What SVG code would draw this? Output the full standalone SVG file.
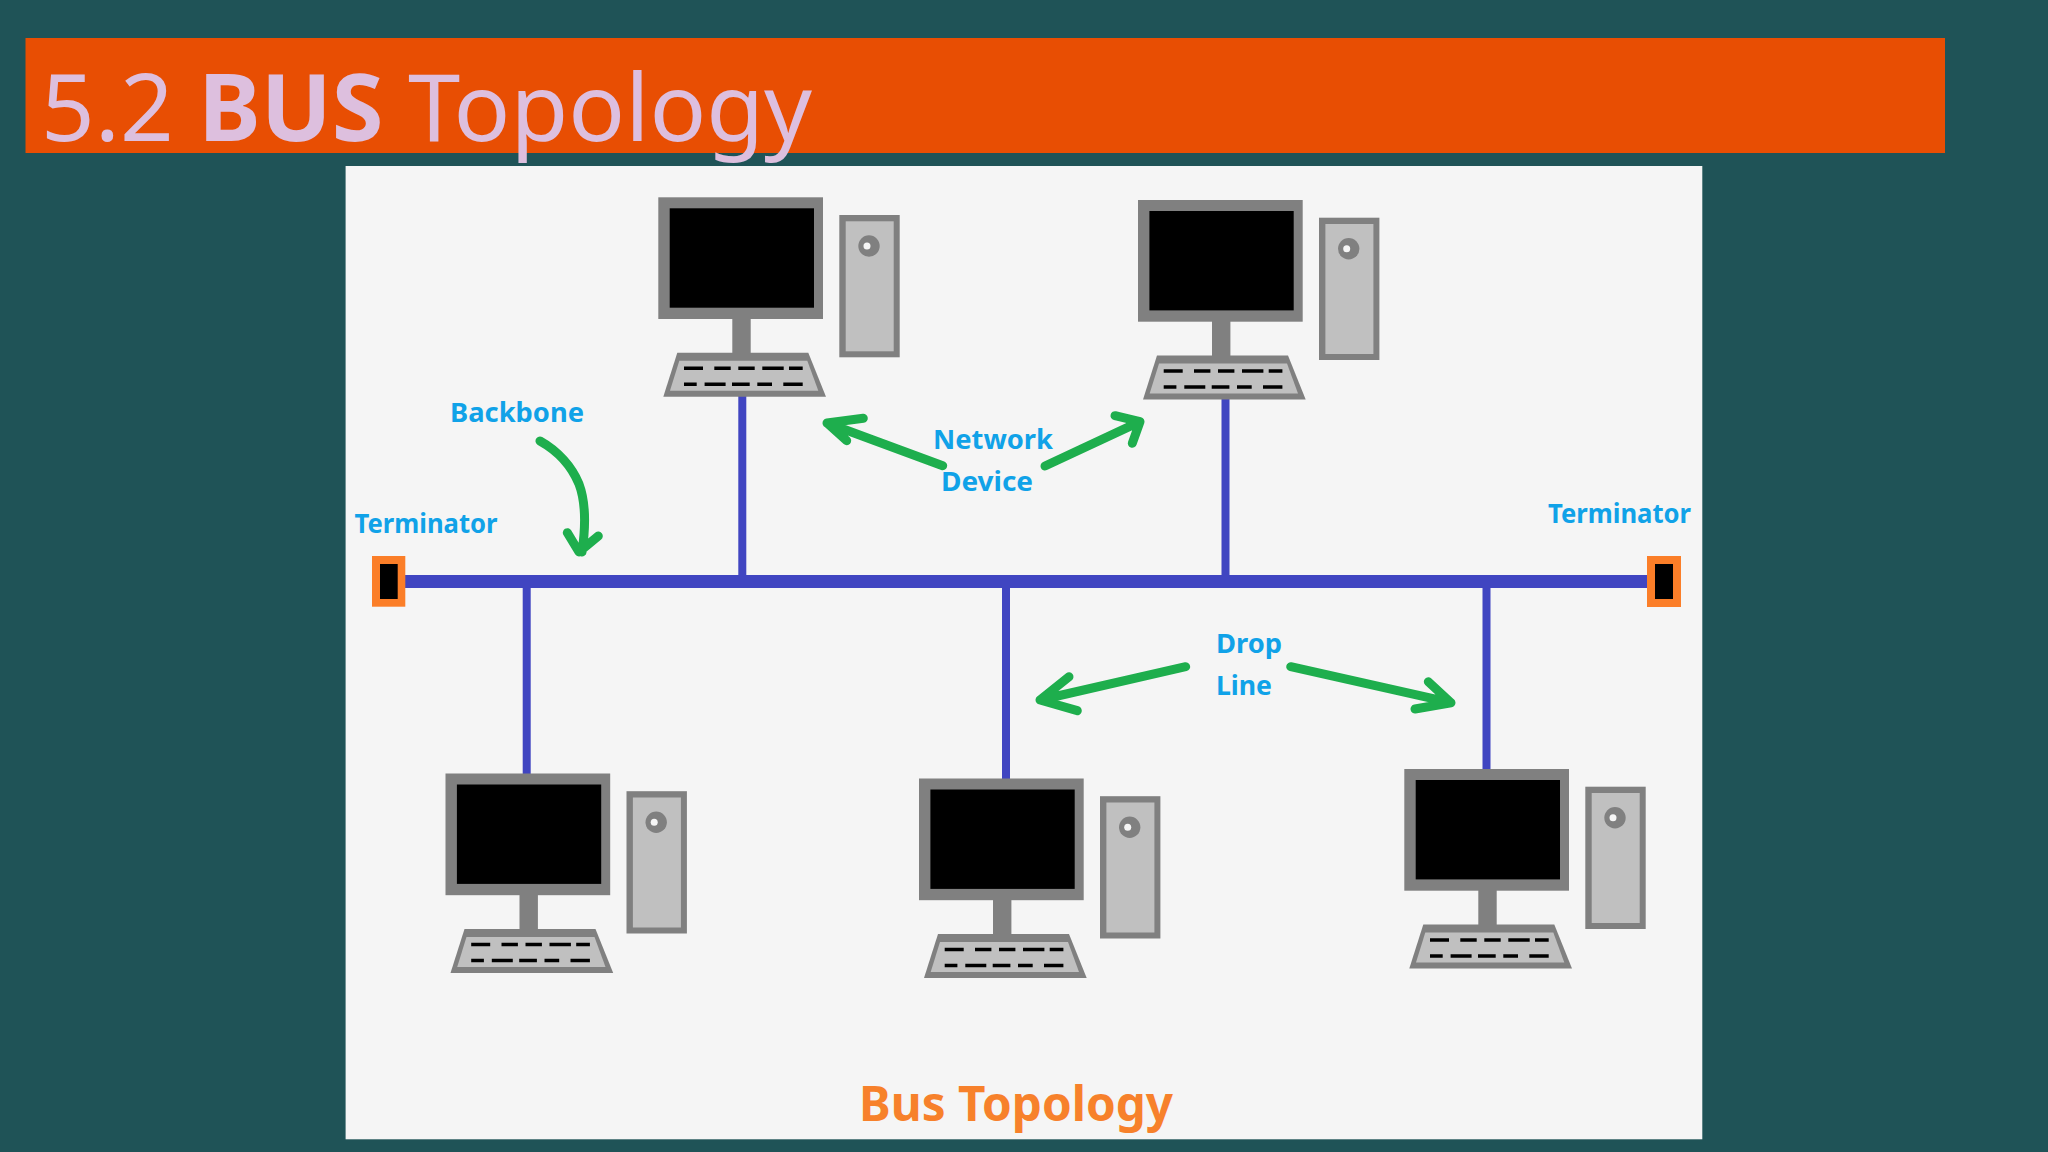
<svg xmlns="http://www.w3.org/2000/svg" xmlns:xlink="http://www.w3.org/1999/xlink" width="2048" height="1152" viewBox="0 0 2048 1152">
<style>
.title{font-family:"Noto Sans","Open Sans",sans-serif;font-size:93px;fill:#DDBFDE}
.lbl{font-family:"Noto Sans","Open Sans",sans-serif;font-size:27px;font-weight:700;fill:#10A2E8}
.cap{font-family:"Noto Sans","Open Sans",sans-serif;font-size:48px;font-weight:700;fill:#F7812B}
.bus{stroke:#4045C1;fill:none}
.ar{stroke:#1EAE4D;stroke-width:9;fill:none;stroke-linecap:round;stroke-linejoin:round}
.k{stroke:#000;stroke-width:3.500}
</style>
<defs>
<g id="pc">
<rect x="0" y="0" width="164.700" height="121.700" fill="#808080"/>
<rect x="11.400" y="11" width="144.300" height="99.400" fill="#000"/>
<rect x="74" y="121" width="18.400" height="35" fill="#808080"/>
<path d="M19 155.400H150L167.700 199.400H5Z" fill="#808080"/>
<path d="M21 163.400H149L160 193.400H11.700Z" fill="#C0C0C0"/>
<g class="k">
<path d="M25.700 171H44.700M56 171H72.400M80 171H96.400M104 171H125.400M130.700 171H144.400"/>
<path d="M25.700 187H38.400M46.300 187H67.300M73.700 187H91.400M99 187H113.700M125 187H144.400"/>
</g>
<rect x="181" y="17.700" width="60.400" height="142.300" fill="#808080"/>
<rect x="187.400" y="24" width="48" height="130" fill="#C0C0C0"/>
<circle cx="210.700" cy="48.700" r="10.700" fill="#808080"/>
<circle cx="208.700" cy="48.700" r="3.500" fill="#F5F5F5"/>
</g>
</defs>
<rect width="2048" height="1152" fill="#1F5357"/>
<rect x="25.500" y="38" width="1919.500" height="115" fill="#E84E03"/>
<rect x="345.600" y="166" width="1356.700" height="973.300" fill="#F5F5F5"/>
<text class="title" x="41" y="140.500" textLength="771" lengthAdjust="spacingAndGlyphs">5.2 <tspan font-weight="700">BUS</tspan> Topology</text>
<g id="connectors">
<path class="bus" stroke-width="13" d="M400 581.500H1650"/>
<path class="bus" stroke-width="8" d="M526.700 587V775M742.300 575V396M1006 587V780M1225.500 575V399M1486.500 587V771"/>
<path class="ar" d="M540 441C558 451 572 467 579 484C585 500 586 525 582 552M567.300 532.700L579 552L598.300 536"/>
<path class="ar" d="M942.700 465.700L827 423M863.300 418.300L827 423L846.700 440.700"/>
<path class="ar" d="M1045 466L1140 421.700M1115 415.700L1140 421.700L1132.300 443.300"/>
<path class="ar" d="M1185.700 666.700L1040 700M1069 676.700L1040 700L1077.300 710.700"/>
<path class="ar" d="M1290.700 666.700L1451 702.700M1428.300 681.700L1451 702.700L1415 709"/>
</g>
<g id="pc1"><use xlink:href="#pc" href="#pc" x="658.300" y="197.300"/></g>
<g id="pc2"><use xlink:href="#pc" href="#pc" x="1138" y="200"/></g>
<g id="pc3"><use xlink:href="#pc" href="#pc" x="445.500" y="773.500"/></g>
<g id="pc4"><use xlink:href="#pc" href="#pc" x="919" y="778.500"/></g>
<g id="pc5"><use xlink:href="#pc" href="#pc" x="1404.300" y="769"/></g>
<g id="term-left"><rect x="372" y="556" width="33.300" height="50.700" fill="#FB7E28"/><rect x="380" y="564" width="17.700" height="35" fill="#000"/></g>
<g id="term-right"><rect x="1647" y="556" width="34" height="51" fill="#FB7E28"/><rect x="1655" y="564" width="18" height="35" fill="#000"/></g>
<g id="labels">
<text class="lbl" x="450" y="422.300" textLength="134" lengthAdjust="spacingAndGlyphs">Backbone</text>
<text class="lbl" x="354.500" y="533" textLength="143" lengthAdjust="spacingAndGlyphs">Terminator</text>
<text class="lbl" x="1548" y="523" textLength="143" lengthAdjust="spacingAndGlyphs">Terminator</text>
<text class="lbl" x="933" y="449" textLength="120" lengthAdjust="spacingAndGlyphs">Network</text>
<text class="lbl" x="941" y="491" textLength="92" lengthAdjust="spacingAndGlyphs">Device</text>
<text class="lbl" x="1216" y="653" textLength="66" lengthAdjust="spacingAndGlyphs">Drop</text>
<text class="lbl" x="1216" y="695" textLength="56" lengthAdjust="spacingAndGlyphs">Line</text>
<text class="cap" x="859" y="1120.700" textLength="314" lengthAdjust="spacingAndGlyphs">Bus Topology</text>
</g>
</svg>
